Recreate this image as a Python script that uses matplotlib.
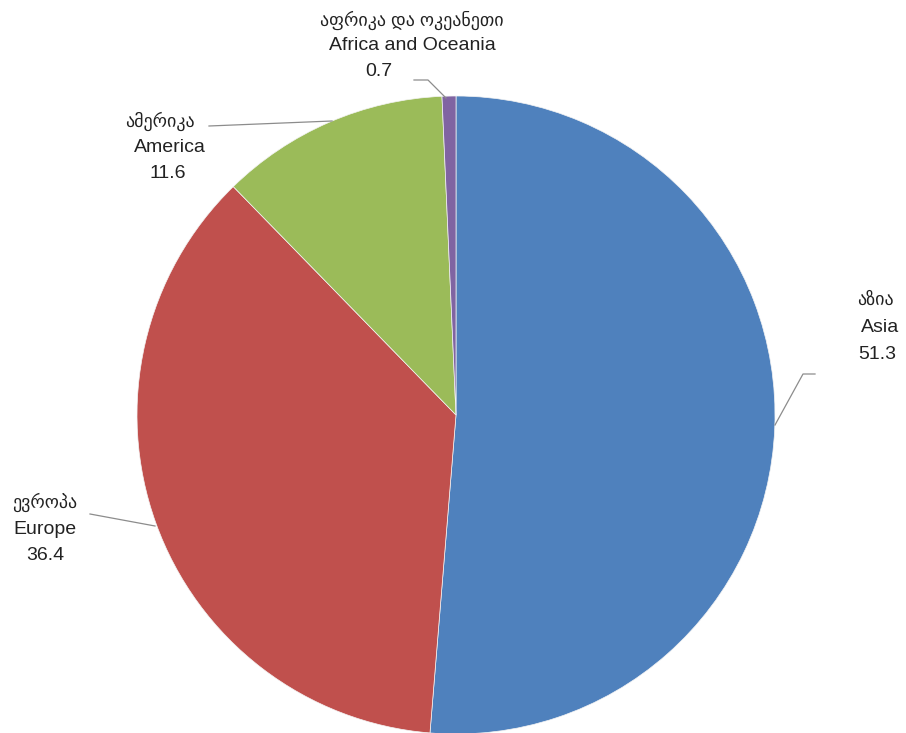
import matplotlib
matplotlib.use("Agg")
import matplotlib.pyplot as plt

categories_ka = ["აზია", "ევროპა", "ამერიკა", "აფრიკა და ოკეანეთი"]
categories_en = ["Asia", "Europe", "America", "Africa and Oceania"]
values = [51.3, 36.4, 11.6, 0.7]
colors = ["#4F81BD", "#C0504D", "#9BBB59", "#8064A2"]

W, H = 906, 733
CX, CY, R = 456, 415, 319

fig = plt.figure(figsize=(W / 100, H / 100), dpi=100)
ax = fig.add_axes([0, 0, 1, 1])
ax.pie(values, colors=colors, startangle=90, counterclock=False, radius=1.0,
       wedgeprops=dict(edgecolor="#f4f4f4", linewidth=0.5))
ax.set_aspect("auto")
ax.set_xlim(-CX / R, (W - CX) / R)
ax.set_ylim(-(H - CY) / R, CY / R)
ax.axis("off")


def d(px, py):
    return (px - CX) / R, (CY - py) / R


fam = ["Liberation Sans", "DejaVu Sans"]

# label layouts (pixel centres of each line) and leader lines
labels = [
    # Asia
    dict(lines=[(875, 300), (880, 328), (877, 355)], leader=[(815, 374), (803, 374), (775, 425)]),
    # Europe
    dict(lines=[(45, 502), (45, 529), (45, 555)], leader=[(90, 514), (155, 526)]),
    # America
    dict(lines=[(160, 121), (170, 148), (168, 174)], leader=[(209, 126), (332, 121)]),
    # Africa
    dict(lines=[(412, 20), (412, 46), (379, 72)], leader=[(414, 80), (428, 80), (446, 98)]),
]

for i, lab in enumerate(labels):
    texts = [categories_ka[i], categories_en[i], f"{values[i]:.1f}"]
    for j, (t, (px, py)) in enumerate(zip(texts, lab["lines"])):
        x, y = d(px, py)
        ax.text(x, y, t, ha="center", va="center", fontsize=14 if j > 0 else 13,
                family=fam, color="#222222")
    pts = [d(px, py) for px, py in lab["leader"]]
    ax.plot([p[0] for p in pts], [p[1] for p in pts], color="#8c8c8c", lw=0.9)

fig.savefig("out.png", dpi=100, facecolor="white")
